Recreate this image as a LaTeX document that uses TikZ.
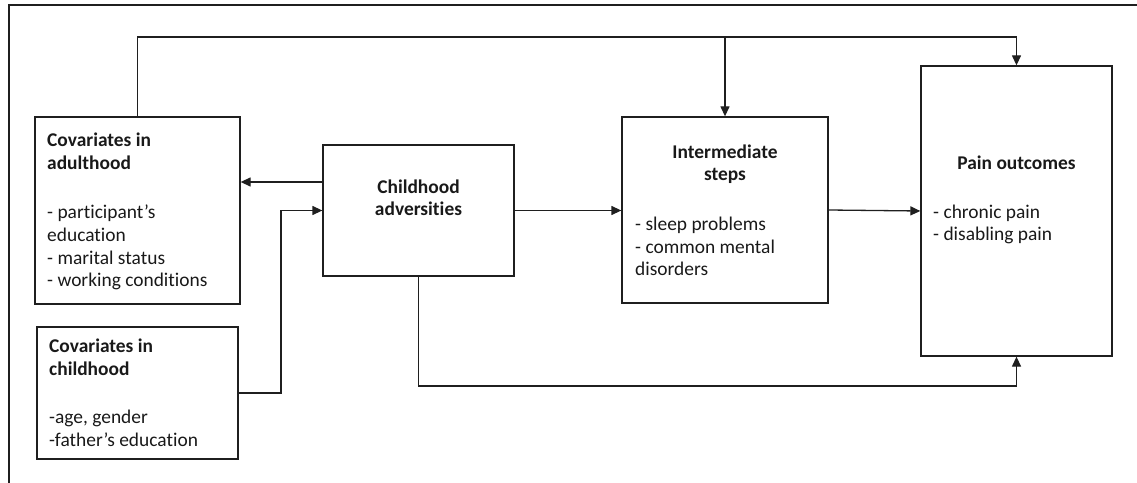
\documentclass[tikz,border=0pt]{standalone}
\usepackage{fontspec}
\setmainfont{Carlito}[Ligatures=NoCommon]
\usetikzlibrary{arrows.meta}
\begin{document}
\begin{tikzpicture}[x=1bp,y=-1bp,
  line/.style={draw=black!88, line width=1.3bp},
  box/.style={line, rectangle, inner sep=0pt},
  arr/.style={line, -{Triangle[length=10bp,width=9bp]}},
  txt/.style={inner sep=0pt, align=left, anchor=base west, text=black!90,
     font=\fontsize{19.5}{23}\selectfont},
  ctxt/.style={txt, align=center, anchor=base}]
\useasboundingbox (0,0) rectangle (1137,483);
% frame
\coordinate (fl) at (9,483);
\coordinate (fc) at (9,5);
\coordinate (fr) at (1137,5);
\draw[line] (fl) -- (fc) -- (fr);
% boxes
\node[box, minimum width=205bp, minimum height=187bp] (adult) at (137.5,210.5) {};
\node[box, minimum width=201bp, minimum height=132bp] (cc) at (137.5,393) {};
\node[box, minimum width=191bp, minimum height=131bp] (ca) at (418.5,210.5) {};
\node[box, minimum width=206bp, minimum height=186bp] (inter) at (725,210) {};
\node[box, minimum width=191bp, minimum height=290bp] (pain) at (1016.5,211) {};
% texts (anchored at the baseline of the last line)
\node[txt] (tadult) at (47,287) {\textbf{Covariates in}\\\textbf{adulthood}\\[26bp]- participant’s\\education\\- marital status\\- working conditions};
\node[txt] (tcc) at (49,446) {\textbf{Covariates in}\\\textbf{childhood}\\[25bp]-age, gender\\-father’s education};
\node[ctxt] (tca) at (418.5,216) {\textbf{Childhood}\\\textbf{adversities}};
\node[ctxt] (tinter) at (725,181) {\textbf{Intermediate}\\\textbf{steps}};
\node[txt] (tinter2) at (635,276) {- sleep problems\\- common mental\\disorders};
\node[ctxt] (tpain) at (1016.5,170) {\textbf{Pain outcomes}};
\node[txt] (tpain2) at (933,241) {- chronic pain\\- disabling pain};
% connectors
\coordinate (top) at (0,37);
\coordinate (bot) at (0,386);
\coordinate (jx) at (281,0);
\draw[arr] (adult.north) -- (adult.north |- top) -| (pain.north);
\draw[arr] (inter.north |- top) -- (inter.north);
\draw[arr] ([yshift=28.5bp]ca.west) -- ([yshift=28.5bp]adult.east);
\draw[arr] (cc.east) -- (cc.east -| jx) |- (ca.west);
\draw[arr] (ca.east) -- (ca.east -| inter.west);
\draw[arr] (inter.east) -- (pain.west);
\draw[arr] (ca.south) -- (ca.south |- bot) -| (pain.south);
\end{tikzpicture}
\end{document}
